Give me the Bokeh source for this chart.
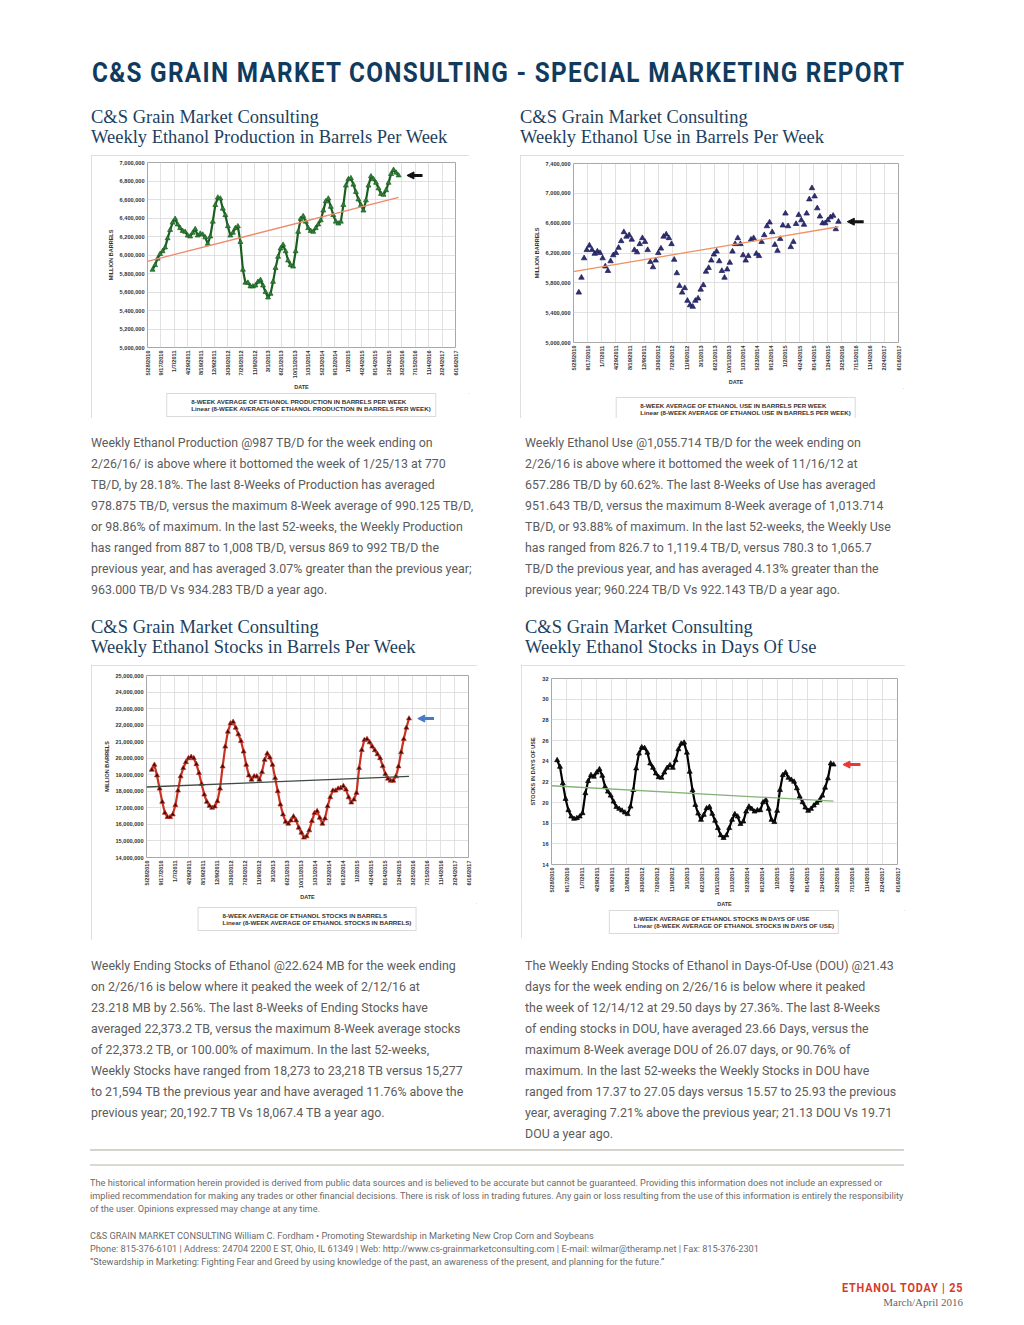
import math
import numpy as np
import pandas as pd
from bokeh.plotting import figure
from bokeh.layouts import column, row
from bokeh.models import (Div, Spacer, Range1d, FixedTicker, NumeralTickFormatter,
                          Legend, LegendItem, Arrow, NormalHead)
from bokeh.embed import file_html
from bokeh.resources import INLINE

PAGE_BG = "#ebe9e5"

# ---------------- data ----------------
AXIS_START = pd.Timestamp("2010-05-28")
TICK_LABELS = ["5/28/2010", "9/17/2010", "1/7/2011", "4/29/2011", "8/19/2011", "12/9/2011",
               "3/30/2012", "7/20/2012", "11/9/2012", "3/1/2013", "6/21/2013", "10/11/2013",
               "1/31/2014", "5/23/2014", "9/12/2014", "1/2/2015", "4/24/2015", "8/14/2015",
               "12/4/2015", "3/25/2016", "7/15/2016", "11/4/2016", "2/24/2017", "6/16/2017"]
DATES = pd.date_range("2010-07-09", "2016-02-26", freq="21D")

PRODUCTION_M = [5.84, 5.89, 5.96, 6.01, 6.04, 6.08, 6.18, 6.27, 6.35, 6.39,
                6.33, 6.29, 6.26, 6.25, 6.21, 6.20, 6.24, 6.28, 6.21, 6.23,
                6.22, 6.19, 6.12, 6.20, 6.36, 6.54, 6.62, 6.61, 6.50, 6.43,
                6.31, 6.21, 6.24, 6.29, 6.31, 6.14, 5.84, 5.70, 5.70, 5.66,
                5.66, 5.67, 5.71, 5.73, 5.67, 5.60, 5.54, 5.58, 5.71, 5.86,
                5.98, 6.07, 6.11, 6.04, 5.94, 5.89, 5.875, 6.04, 6.25, 6.39,
                6.42, 6.36, 6.29, 6.26, 6.25, 6.29, 6.33, 6.375, 6.48, 6.58,
                6.61, 6.52, 6.43, 6.36, 6.34, 6.36, 6.54, 6.75, 6.82, 6.83,
                6.76, 6.68, 6.60, 6.54, 6.48, 6.59, 6.75, 6.85, 6.82, 6.78,
                6.72, 6.66, 6.65, 6.70, 6.78, 6.875, 6.92, 6.89, 6.86]

USE_M = [5.67, 5.87, 6.13, 6.24, 6.30, 6.24, 6.19, 6.22, 6.20, 6.13,
         6.02, 5.96, 6.09, 6.17, 6.20, 6.27, 6.36, 6.48, 6.42, 6.44,
         6.38, 6.24, 6.21, 6.32, 6.40, 6.35, 6.24, 6.08, 6.01, 6.10,
         6.20, 6.26, 6.42, 6.45, 6.40, 6.32, 6.11, 5.93, 5.76, 5.67,
         5.73, 5.56, 5.50, 5.48, 5.56, 5.59, 5.71, 5.77, 5.95, 6.00,
         6.10, 6.18, 6.22, 6.09, 5.96, 5.87, 5.98, 6.07, 6.22, 6.32,
         6.40, 6.32, 6.17, 6.10, 6.16, 6.38, 6.40, 6.19, 6.16, 6.35,
         6.44, 6.56, 6.61, 6.48, 6.31, 6.23, 6.39, 6.57, 6.73, 6.56,
         6.28, 6.35, 6.59, 6.71, 6.64, 6.58, 6.73, 6.92, 7.07, 6.96,
         6.80, 6.69, 6.60, 6.60, 6.64, 6.68, 6.70, 6.52, 6.62]

STOCKS_M = [19.30, 19.60, 18.96, 18.16, 17.36, 16.70, 16.44, 16.44, 16.60, 17.16,
            18.04, 18.90, 19.40, 19.76, 20.00, 20.08, 20.00, 19.64, 19.10, 18.44,
            17.80, 17.36, 17.12, 17.00, 17.08, 17.40, 18.16, 19.50, 20.70, 21.60,
            22.10, 22.20, 21.84, 21.44, 21.04, 20.40, 19.60, 18.96, 18.70, 18.90,
            18.90, 18.70, 19.16, 19.90, 20.28, 20.04, 19.60, 18.80, 18.00, 17.20,
            16.60, 16.16, 16.04, 16.24, 16.48, 16.24, 15.80, 15.50, 15.20, 15.28,
            15.64, 16.20, 16.68, 16.80, 16.40, 16.04, 16.36, 17.10, 17.64, 18.04,
            18.04, 18.16, 18.20, 18.32, 18.10, 17.64, 17.32, 17.50, 17.90, 19.40,
            20.50, 21.10, 21.16, 20.96, 20.70, 20.48, 20.24, 20.00, 19.52, 19.04,
            18.76, 18.64, 18.64, 18.90, 19.50, 20.36, 21.16, 21.84, 22.40]

DAYS_OF_USE = [24.09, 23.45, 21.85, 20.34, 19.25, 18.64, 18.42, 18.48, 18.64, 18.96,
               20.89, 22.07, 22.65, 22.49, 22.90, 23.22, 22.58, 21.53, 21.05, 20.66,
               20.08, 19.57, 19.38, 19.22, 19.03, 18.87, 19.60, 21.20, 23.29, 24.73,
               25.34, 25.27, 24.82, 23.77, 23.35, 22.81, 22.45, 22.39, 22.90, 23.35,
               23.61, 23.35, 24.09, 25.15, 25.69, 25.79, 24.82, 22.97, 21.17, 19.76,
               18.93, 18.32, 18.80, 19.44, 19.57, 18.90, 18.23, 17.52, 16.82, 16.56,
               16.82, 17.52, 18.32, 18.87, 18.64, 17.91, 18.16, 19.12, 19.60, 19.38,
               19.12, 19.25, 19.25, 20.02, 20.24, 19.38, 18.32, 18.10, 19.19, 21.21,
               22.65, 22.90, 22.39, 22.20, 22.01, 21.37, 20.57, 20.02, 19.51, 19.19,
               19.38, 19.70, 19.96, 20.21, 20.66, 21.43, 22.33, 23.77, 23.67]

PROD_TICKS = [5000000, 5200000, 5400000, 5600000, 5800000, 6000000,
              6200000, 6400000, 6600000, 6800000, 7000000]
USE_TICKS = [5000000, 5400000, 5800000, 6200000, 6600000, 7000000, 7400000]
STOCK_TICKS = [14000000, 15000000, 16000000, 17000000, 18000000, 19000000,
               20000000, 21000000, 22000000, 23000000, 24000000, 25000000]
DOU_TICKS = [14, 16, 18, 20, 22, 24, 26, 28, 30, 32]

TITLE = "C&amp;S GRAIN MARKET CONSULTING - SPECIAL MARKETING REPORT"
HEAD_TOP = "C&amp;S Grain Market Consulting"
HEADINGS = ["Weekly Ethanol Production in Barrels Per Week",
            "Weekly Ethanol Use in Barrels Per Week",
            "Weekly Ethanol Stocks in Barrels Per Week",
            "Weekly Ethanol Stocks in Days Of Use"]

PARA1 = ["Weekly Ethanol Production @987 TB/D for the week ending on",
         "2/26/16/ is above where it bottomed the week of 1/25/13 at 770",
         "TB/D, by 28.18%. The last 8-Weeks of Production has averaged",
         "978.875 TB/D, versus the maximum 8-Week average of 990.125 TB/D,",
         "or 98.86% of maximum. In the last 52-weeks, the Weekly Production",
         "has ranged from 887 to 1,008 TB/D, versus 869 to 992 TB/D the",
         "previous year, and has averaged 3.07% greater than the previous year;",
         "963.000 TB/D Vs 934.283 TB/D a year ago."]
PARA2 = ["Weekly Ethanol Use @1,055.714 TB/D for the week ending on",
         "2/26/16 is above where it bottomed the week of 11/16/12 at",
         "657.286 TB/D by 60.62%. The last 8-Weeks of Use has averaged",
         "951.643 TB/D, versus the maximum 8-Week average of 1,013.714",
         "TB/D, or 93.88% of maximum. In the last 52-weeks, the Weekly Use",
         "has ranged from 826.7 to 1,119.4 TB/D, versus 780.3 to 1,065.7",
         "TB/D the previous year, and has averaged 4.13% greater than the",
         "previous year; 960.224 TB/D Vs 922.143 TB/D a year ago."]
PARA3 = ["Weekly Ending Stocks of Ethanol @22.624 MB for the week ending",
         "on 2/26/16 is below where it peaked the week of 2/12/16 at",
         "23.218 MB by 2.56%. The last 8-Weeks of Ending Stocks have",
         "averaged 22,373.2 TB, versus the maximum 8-Week average stocks",
         "of 22,373.2 TB, or 100.00% of maximum. In the last 52-weeks,",
         "Weekly Stocks have ranged from 18,273 to 23,218 TB versus 15,277",
         "to 21,594 TB the previous year and have averaged 11.76% above the",
         "previous year; 20,192.7 TB Vs 18,067.4 TB a year ago."]
PARA4 = ["The Weekly Ending Stocks of Ethanol in Days-Of-Use (DOU) @21.43",
         "days for the week ending on 2/26/16 is below where it peaked",
         "the week of 12/14/12 at 29.50 days by 27.36%. The last 8-Weeks",
         "of ending stocks in DOU, have averaged 23.66 Days, versus the",
         "maximum 8-Week average DOU of 26.07 days, or 90.76% of",
         "maximum. In the last 52-weeks the Weekly Stocks in DOU have",
         "ranged from 17.37 to 27.05 days versus 15.57 to 25.93 the previous",
         "year, averaging 7.21% above the previous year; 21.13 DOU Vs 19.71",
         "DOU a year ago."]
FOOT1 = ["The historical information herein provided is derived from public data sources and is believed to be accurate but cannot be guaranteed. Providing this information does not include an expressed or",
         "implied recommendation for making any trades or other financial decisions. There is risk of loss in trading futures. Any gain or loss resulting from the use of this information is entirely the responsibility",
         "of the user. Opinions expressed may change at any time."]
FOOT2 = ["C&amp;S GRAIN MARKET CONSULTING William C. Fordham &#8226; Promoting Stewardship in Marketing New Crop Corn and Soybeans",
         "Phone: 815-376-6101 | Address: 24704 2200 E ST, Ohio, IL 61349 | Web: http://www.cs-grainmarketconsulting.com | E-mail: wilmar@theramp.net | Fax: 815-376-2301",
         "&#8220;Stewardship in Marketing: Fighting Fear and Greed by using knowledge of the past, an awareness of the present, and planning for the future.&#8221;"]

LEG1 = ["8-WEEK AVERAGE OF ETHANOL PRODUCTION IN BARRELS PER WEEK",
        "Linear (8-WEEK AVERAGE OF ETHANOL PRODUCTION IN BARRELS PER WEEK)"]
LEG2 = ["8-WEEK AVERAGE OF ETHANOL USE IN BARRELS PER WEEK",
        "Linear (8-WEEK AVERAGE OF ETHANOL USE IN BARRELS PER WEEK)"]
LEG3 = ["8-WEEK AVERAGE OF ETHANOL STOCKS IN BARRELS",
        "Linear (8-WEEK AVERAGE OF ETHANOL STOCKS IN BARRELS)"]
LEG4 = ["8-WEEK AVERAGE OF ETHANOL STOCKS IN DAYS OF USE",
        "Linear (8-WEEK AVERAGE OF ETHANOL STOCKS IN DAYS OF USE)"]

TICK_DAYS = [int((pd.to_datetime(t, format="%m/%d/%Y") - AXIS_START).days) for t in TICK_LABELS]
X_DAYS = [int((d - AXIS_START).days) for d in DATES]

CHART_FONT = "Liberation Sans"


def make_chart(values, scale, width, main_h, leg_h, leg_gap, borders, yticks, yfmt, ylabel,
               fill, line, trend_color, arrow_color, labels, connect, msize):
    left, right, top, bottom = borders
    y = [v * scale for v in values]
    p = figure(width=width, height=main_h, output_backend="svg", toolbar_location=None,
               x_range=Range1d(0, TICK_DAYS[-1]), y_range=Range1d(yticks[0], yticks[-1]),
               min_border_left=left, min_border_right=right,
               min_border_top=top, min_border_bottom=bottom,
               background_fill_color="white", border_fill_color="white",
               outline_line_color="#a8a8a8", outline_line_width=1)
    if connect:
        p.line(X_DAYS, y, line_color=line, line_width=2.2)
    p.scatter(X_DAYS, y, marker="triangle", size=msize, fill_color=fill,
              line_color=line, line_width=0.7)
    coef = np.polyfit(X_DAYS, y, 1)
    tx = [0, X_DAYS[-1]]
    p.line(tx, list(np.polyval(coef, tx)), line_color=trend_color, line_width=1.3)
    p.add_layout(Arrow(end=NormalHead(size=7, fill_color=arrow_color, line_color=arrow_color),
                       x_start=X_DAYS[-1] + 200, y_start=y[-1],
                       x_end=X_DAYS[-1] + 70, y_end=y[-1],
                       line_color=arrow_color, line_width=3))

    xt = FixedTicker(ticks=TICK_DAYS)
    yt = FixedTicker(ticks=yticks)
    p.xaxis.ticker = xt
    p.xgrid.ticker = xt
    p.yaxis.ticker = yt
    p.ygrid.ticker = yt
    p.xaxis.major_label_overrides = dict(zip(TICK_DAYS, TICK_LABELS))
    p.xaxis.major_label_orientation = math.pi / 2
    p.xaxis.axis_label = "DATE"
    p.yaxis.formatter = NumeralTickFormatter(format=yfmt)
    p.yaxis.axis_label = ylabel
    p.axis.major_label_text_font = CHART_FONT
    p.axis.major_label_text_font_size = "5.6px"
    p.axis.major_label_text_font_style = "bold"
    p.axis.major_label_text_color = "#333333"
    p.axis.axis_label_text_font = CHART_FONT
    p.axis.axis_label_text_font_size = "5.5px"
    p.axis.axis_label_text_font_style = "bold"
    p.axis.axis_label_text_color = "#333333"
    p.axis.axis_line_color = None
    p.axis.major_tick_line_color = None
    p.axis.minor_tick_line_color = None
    p.axis.major_tick_out = 0
    p.axis.major_tick_in = 0
    p.axis.minor_tick_out = 0
    p.axis.minor_tick_in = 0
    p.axis.major_label_standoff = 3
    p.axis.axis_label_standoff = 3
    p.grid.grid_line_color = "#d9d9d9"
    p.grid.grid_line_width = 0.8

    # legend strip below the chart (same white box)
    q = figure(width=width, height=leg_h, output_backend="svg", toolbar_location=None,
               x_range=Range1d(0, 1), y_range=Range1d(0, 1),
               x_axis_location=None, y_axis_location=None,
               min_border_left=left, min_border_right=right, min_border_top=0, min_border_bottom=0,
               background_fill_color="white", border_fill_color="white", outline_line_color=None)
    q.grid.visible = False
    r_pts = q.scatter([], [], marker="triangle", size=5, fill_color=fill,
                      line_color=line, line_width=0.7)
    r_tr = q.line([], [], line_color=trend_color, line_width=1.3)
    leg = Legend(items=[LegendItem(label=labels[0], renderers=[r_pts]),
                        LegendItem(label=labels[1], renderers=[r_tr])],
                 location="top_center", orientation="vertical",
                 border_line_color="#b5b5b5", background_fill_color="white",
                 label_text_font=CHART_FONT, label_text_font_size="6.2px",
                 label_text_font_style="bold", label_text_color="#333333",
                 glyph_height=6, glyph_width=16, label_height=6, label_standoff=4,
                 padding=4, spacing=0, margin=leg_gap)
    q.add_layout(leg, "center")
    box = column(p, q, spacing=0)
    box.styles = {"outline": "1px solid #d4d4d4", "outline-offset": "-1px"}
    return box


chart1 = make_chart(PRODUCTION_M, 1e6, 378, 238, 25, 0, (56, 14, 7, 45), PROD_TICKS, "0,0",
                    "MILLION BARRELS", "#2e8038", "#1b5e20", "#ee8a6c", "#111111", LEG1, True, 5)
chart2 = make_chart(USE_M, 1e6, 384, 233, 30, 9, (53, 6, 8, 45), USE_TICKS, "0,0",
                    "MILLION BARRELS", "#2f2f78", "#1c1c55", "#f39060", "#111111", LEG2, False, 5.5)
chart3 = make_chart(STOCKS_M, 1e6, 386, 238, 37, 4, (55, 9, 10, 45), STOCK_TICKS, "0,0",
                    "MILLION BARRELS", "#3b0c0c", "#c83222", "#3f4a40", "#4a78c8", LEG3, True, 5)
chart4 = make_chart(DAYS_OF_USE, 1, 384, 245, 28, 0, (30, 8, 13, 45), DOU_TICKS, "0",
                    "STOCKS IN DAYS OF USE", "#111111", "#000000", "#86b27a", "#e53935", LEG4, True, 5)

# ---------------- text bands ----------------
TITLE_CSS = ("position:absolute;left:92px;top:59px;white-space:nowrap;font-family:Roboto;"
             "font-weight:bold;font-size:28px;line-height:28px;letter-spacing:1.5px;color:#0f3b5f;"
             "transform:scaleX(0.868);transform-origin:0 0;")
HEAD_CSS = ("position:absolute;white-space:nowrap;font-family:'Liberation Serif';"
            "font-size:18.5px;line-height:20px;color:#1e3f60;")
PARA_CSS = ("position:absolute;white-space:nowrap;font-family:Roboto;font-size:12.4px;"
            "line-height:21px;color:#5c5c5c;")
FOOT_CSS = ("position:absolute;white-space:nowrap;font-family:Roboto;font-size:9.2px;"
            "line-height:13px;color:#6b6b6b;")
W = 1024


def block(css, left, top, lines):
    return f'<div style="{css}left:{left}px;top:{top}px;">' + "<br>".join(lines) + "</div>"


def band(height, inner):
    return Div(width=W, height=height, margin=0,
               text=f'<div style="position:relative;width:{W}px;height:{height}px;">{inner}</div>')


band1 = band(155,
             f'<div style="{TITLE_CSS}">{TITLE}</div>'
             + block(HEAD_CSS, 91, 107, [HEAD_TOP, HEADINGS[0]])
             + block(HEAD_CSS, 520, 107, [HEAD_TOP, HEADINGS[1]]))

band3 = band(247,
             block(PARA_CSS, 91, 14, PARA1)
             + block(PARA_CSS, 525, 14, PARA2)
             + block(HEAD_CSS, 91, 199, [HEAD_TOP, HEADINGS[2]])
             + block(HEAD_CSS, 525, 199, [HEAD_TOP, HEADINGS[3]]))

band5 = band(380,
             block(PARA_CSS, 91, 15, PARA3)
             + block(PARA_CSS, 525, 15, PARA4)
             + '<div style="position:absolute;left:90px;top:209px;width:814px;height:2px;background:#d6d3cd;"></div>'
             + '<div style="position:absolute;left:90px;top:224px;width:814px;height:2px;background:#dcd9d3;"></div>'
             + block(FOOT_CSS, 90, 236, FOOT1)
             + block(FOOT_CSS, 90, 289, FOOT2)
             + '<div style="position:absolute;right:61px;top:341px;white-space:nowrap;font-family:Roboto;'
               'font-weight:bold;font-size:13px;line-height:13px;letter-spacing:1px;color:#d63c2a;'
               'transform:scaleX(0.835);transform-origin:100% 0;">ETHANOL TODAY | 25</div>'
             + '<div style="position:absolute;right:61px;top:356px;white-space:nowrap;'
               'font-family:\'Liberation Serif\';font-size:11px;line-height:12px;color:#666666;">March/April 2016</div>')

root = column(
    band1,
    row(Spacer(width=91, height=263), chart1, Spacer(width=51, height=263), chart2),
    band3,
    row(Spacer(width=91, height=275), chart3, Spacer(width=44, height=275), chart4),
    band5,
)

html = file_html(root, INLINE, title="C&S Grain Market Consulting")
html = html.replace("<body>", f'<body style="background-color:{PAGE_BG};">', 1)
open("out.html", "w").write(html)
